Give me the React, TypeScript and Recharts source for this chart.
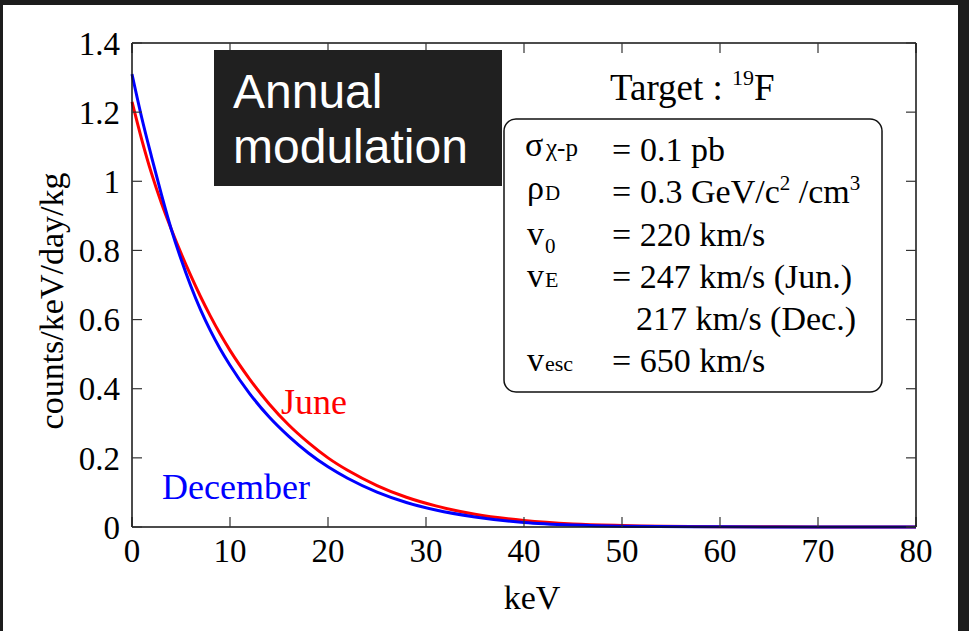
import { LineChart, Line, XAxis, YAxis } from 'recharts';

// recoil energy grid (keV) and expected rates (counts/keV/day/kg)
const energy = [0, 1, 2, 3, 4, 5, 6, 7, 8, 9, 10, 12, 14, 16, 18, 20, 22, 25, 28, 31, 35, 40, 45, 50, 60, 70, 80];
const june = [
  1.23, 1.12, 1.022, 0.937, 0.862, 0.792, 0.727, 0.666, 0.61, 0.558, 0.511, 0.428, 0.356, 0.295, 0.244, 0.2,
  0.164, 0.12, 0.086, 0.061, 0.037, 0.019, 0.009, 0.0045, 0.001, 0.0002, 0,
];
const december = [
  1.31, 1.183, 1.07, 0.962, 0.862, 0.775, 0.697, 0.628, 0.568, 0.515, 0.468, 0.386, 0.318, 0.262, 0.214, 0.174,
  0.141, 0.101, 0.071, 0.049, 0.029, 0.013, 0.0055, 0.0022, 0.0004, 0.0001, 0,
];

const xTicks = [0, 10, 20, 30, 40, 50, 60, 70, 80];
const yTicks = [0, 0.2, 0.4, 0.6, 0.8, 1, 1.2, 1.4];

const data = energy.map((e, i) => ({ e, june: june[i], december: december[i] }));

const serif = '"Liberation Serif", "Times New Roman", serif';
const sans = '"Liberation Sans", Arial, Helvetica, sans-serif';

const axisLine = { stroke: '#111', strokeWidth: 1.5 };
const innerTick = { stroke: '#333', strokeWidth: 1.2 };
const tickFont = { fontSize: 33, fill: '#000', fontFamily: serif };

// top/right axes only carry inward tick marks
const NoLabel = () => <g />;

const YTitle = (props: any) => {
  const { x, y, height } = props.viewBox;
  const cx = x + 21;
  const cy = y + height / 2 + 16;
  return (
    <text
      x={cx}
      y={cy}
      transform={`rotate(-90, ${cx}, ${cy})`}
      textAnchor="middle"
      fontSize={34}
      fontFamily={serif}
      fill="#000"
    >
      counts/keV/day/kg
    </text>
  );
};

export default function App() {
  return (
    <div style={{ position: 'absolute', left: 0, top: 0, width: 969, height: 631, background: '#fff' }}>
      <LineChart width={969} height={631} data={data} margin={{ top: 43, right: 53, bottom: 22, left: 42 }}>
        <XAxis
          xAxisId="x"
          dataKey="e"
          type="number"
          domain={[0, 80]}
          ticks={xTicks}
          height={82}
          tickLine={innerTick}
          axisLine={axisLine}
          tick={tickFont}
          tickSize={-10}
          tickMargin={22}
          label={{ value: 'keV', position: 'insideBottom', offset: 0, dx: 8, fontSize: 34, fontFamily: serif, fill: '#000' }}
        />
        <XAxis
          xAxisId="top"
          orientation="top"
          dataKey="e"
          type="number"
          domain={[0, 80]}
          allowDataOverflow
          ticks={xTicks}
          mirror
          tick={NoLabel}
          tickSize={10}
          tickLine={innerTick}
          axisLine={axisLine}
        />
        <YAxis
          yAxisId="y"
          type="number"
          domain={[0, 1.4]}
          ticks={yTicks}
          width={90}
          tickLine={innerTick}
          axisLine={axisLine}
          tick={tickFont}
          tickSize={-10}
          tickMargin={22}
          label={{ content: YTitle }}
        />
        <YAxis
          yAxisId="right"
          orientation="right"
          type="number"
          domain={[0, 1.4]}
          allowDataOverflow
          ticks={yTicks}
          mirror
          tick={NoLabel}
          tickSize={10}
          tickLine={innerTick}
          axisLine={axisLine}
        />
        {/* transparent copy bound to the top/right axes so they get a scale */}
        <Line xAxisId="top" yAxisId="right" dataKey="june" stroke="transparent" dot={false} activeDot={false} isAnimationActive={false} />
        <Line xAxisId="x" yAxisId="y" type="monotone" dataKey="june" stroke="#ff0000" strokeWidth={3} dot={false} isAnimationActive={false} />
        <Line xAxisId="x" yAxisId="y" type="monotone" dataKey="december" stroke="#0000ff" strokeWidth={3} dot={false} isAnimationActive={false} />
      </LineChart>

      <svg width={969} height={631} style={{ position: 'absolute', left: 0, top: 0, pointerEvents: 'none' }}>
        {/* dark frame strips */}
        <rect x={0} y={0} width={969} height={5} fill="#1c1c1c" />
        <rect x={0} y={0} width={3} height={631} fill="#1c1c1c" />
        <rect x={958} y={0} width={11} height={631} fill="#1c1c1c" />

        {/* title plate */}
        <rect x={214} y={50} width={288} height={136} fill="#202020" />
        <text x={233} y={108} fill="#fff" fontSize={48} fontFamily={sans}>Annual</text>
        <text x={233} y={163} fill="#fff" fontSize={48} fontFamily={sans}>modulation</text>

        <text x={610} y={100} fontSize={37} fontFamily={serif} fill="#000">
          Target :{' '}
          <tspan fontSize={22} dy={-15}>19</tspan>
          <tspan dy={15}>F</tspan>
        </text>

        {/* parameter box */}
        <rect x={504} y={119} width={378} height={273} rx={12} ry={12} fill="#fff" stroke="#111" strokeWidth={1.5} />
        <g fontFamily={serif} fill="#000">
          <text x={525} y={156} fontSize={34}>σ</text>
          <text x={546} y={156} fontSize={25}>χ-p</text>
          <text x={612} y={161} fontSize={34}>=</text>
          <text x={640} y={161} fontSize={34}>0.1 pb</text>

          <text x={527} y={199} fontSize={34}>ρ</text>
          <text x={545} y={200} fontSize={21}>D</text>
          <text x={612} y={203} fontSize={34}>=</text>
          <text x={640} y={203} fontSize={34}>
            0.3 GeV/c<tspan fontSize={21} dy={-13}>2</tspan>
            <tspan dy={13}> /cm</tspan>
            <tspan fontSize={21} dy={-13}>3</tspan>
          </text>

          <text x={527} y={245} fontSize={34}>v</text>
          <text x={545} y={253} fontSize={21}>0</text>
          <text x={612} y={246} fontSize={34}>= 220 km/s</text>

          <text x={527} y={287} fontSize={34}>v</text>
          <text x={545} y={287} fontSize={22}>E</text>
          <text x={612} y={288} fontSize={34}>= 247 km/s (Jun.)</text>

          <text x={636} y={330} fontSize={34}>217 km/s (Dec.)</text>

          <text x={527} y={371} fontSize={34}>v</text>
          <text x={545} y={371} fontSize={22}>esc</text>
          <text x={612} y={372} fontSize={34}>= 650 km/s</text>
        </g>

        <text x={281} y={414} fontSize={36} fontFamily={serif} fill="#ff0000">June</text>
        <text x={162} y={499} fontSize={36} fontFamily={serif} fill="#0000ff">December</text>
      </svg>
    </div>
  );
}
